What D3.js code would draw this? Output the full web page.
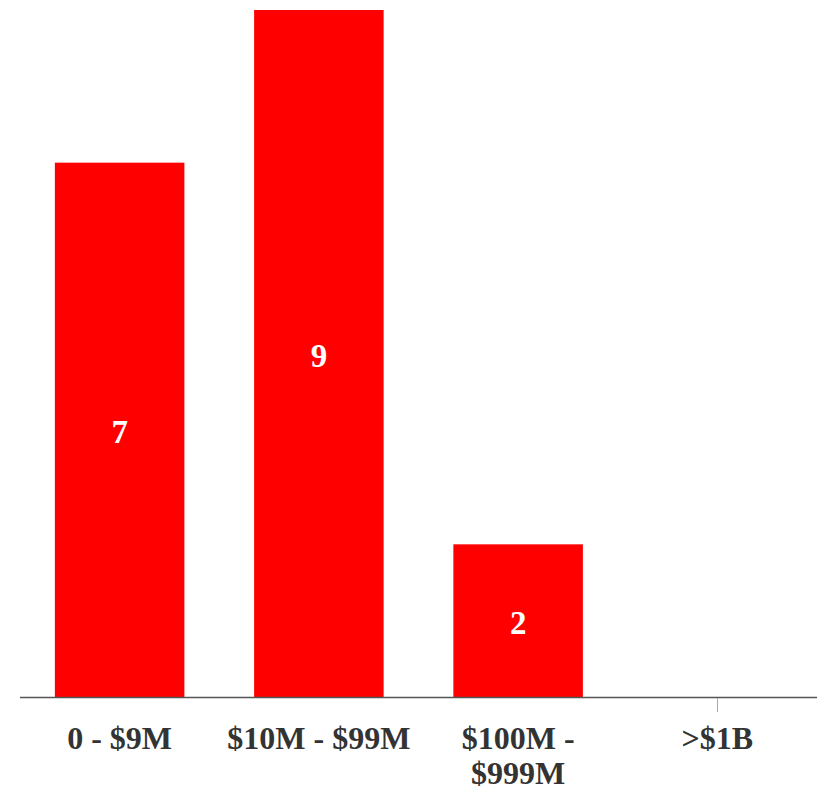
<!DOCTYPE html>
<html><head><meta charset="utf-8">
<script src="https://cdn.jsdelivr.net/npm/d3@7"></script>
<style>body{margin:0;background:#fff}</style>
</head><body>
<svg id="c" width="817" height="789"></svg>
<script>
const categories = ["0 - $9M", "$10M - $99M", "$100M - $999M", ">$1B"];
const values = [7, 9, 2, 0];
const labelLines = [["0 - $9M"], ["$10M - $99M"], ["$100M -", "$999M"], [">$1B"]];

const svg = d3.select("#c");
const x = d3.scaleBand().domain(categories).range([20, 817]).paddingInner(0.35).paddingOuter(0.175);
const y = d3.scaleLinear().domain([0, 9]).range([697, 10]);
const font = "'Liberation Serif', serif";

svg.selectAll("rect.bar").data(values).join("rect")
  .attr("x", (d, i) => x(categories[i]))
  .attr("y", d => y(d))
  .attr("width", x.bandwidth())
  .attr("height", d => y(0) - y(d))
  .attr("fill", "#ff0000");

svg.selectAll("text.val").data(values.filter(d => d > 0)).join("text")
  .attr("x", (d, i) => x(categories[i]) + x.bandwidth() / 2)
  .attr("y", d => (y(d) + y(0)) / 2 + 13)
  .attr("text-anchor", "middle")
  .attr("font-family", font).attr("font-weight", "bold").attr("font-size", 33)
  .attr("fill", "#fff")
  .text(d => d);

svg.append("line").attr("x1", 20).attr("x2", 817).attr("y1", 697.5).attr("y2", 697.5)
  .attr("stroke", "#555").attr("stroke-width", 1.5);

values.forEach((d, i) => {
  if (d === 0) {
    const cx = Math.round(x(categories[i]) + x.bandwidth() / 2) + 0.5;
    svg.append("line").attr("x1", cx).attr("x2", cx).attr("y1", 698).attr("y2", 712)
      .attr("stroke", "#aaa").attr("stroke-width", 1);
  }
});

const lbl = svg.selectAll("text.cat").data(categories).join("text")
  .attr("text-anchor", "middle")
  .attr("font-family", font).attr("font-weight", "bold").attr("font-size", 32)
  .attr("fill", "#333");
lbl.each(function (c, i) {
  const t = d3.select(this);
  const cx = x(c) + x.bandwidth() / 2;
  labelLines[i].forEach((ln, j) => {
    t.append("tspan").attr("x", cx).attr("y", 749 + j * 35).text(ln);
  });
});
</script>
</body></html>
